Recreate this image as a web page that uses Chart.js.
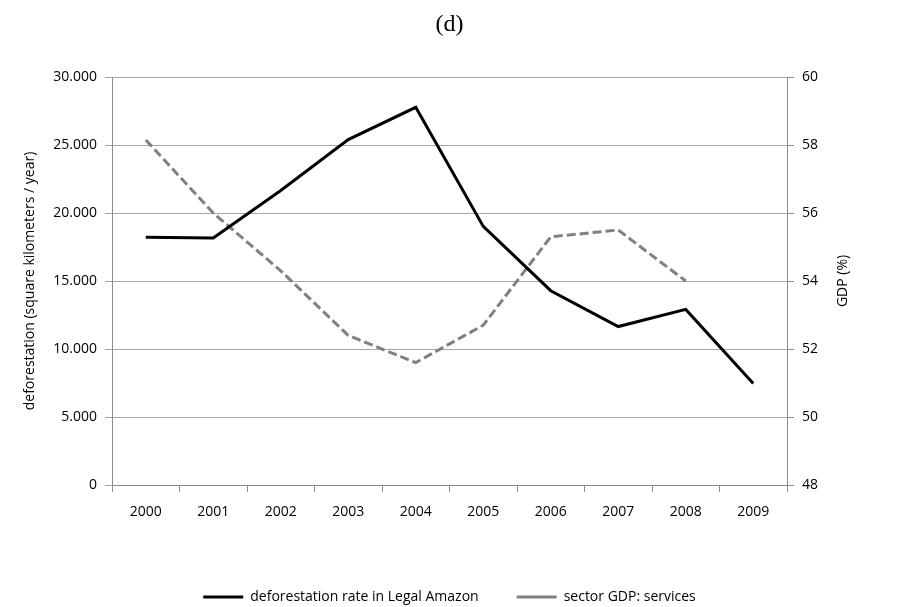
<!DOCTYPE html>
<html>
<head>
<meta charset="utf-8">
<script src="https://cdn.jsdelivr.net/npm/chart.js@4"></script>
<style>
  body { margin: 0; background: #fff; }
  canvas { display: block; }
</style>
</head>
<body>
<canvas id="chart" width="899" height="607"></canvas>
<script>
// Datos
const years = ['2000', '2001', '2002', '2003', '2004', '2005', '2006', '2007', '2008', '2009'];
const deforestation = [18226, 18165, 21651, 25396, 27772, 19014, 14286, 11651, 12911, 7464];
const gdpServices = [58.15, 56.0, 54.3, 52.4, 51.6, 52.7, 55.3, 55.5, 54.0, null];

const leftTicks = [0, 5000, 10000, 15000, 20000, 25000, 30000];
const rightTicks = [48, 50, 52, 54, 56, 58, 60];

const FONT = "'Open Sans', sans-serif";
const gridColor = '#a6a6a6';
const axisColor = '#8c8c8c';

// separador de miles con punto: 30000 -> 30.000
function fmtThousands(v) {
    return String(v).replace(/\B(?=(\d{3})+(?!\d))/g, '.');
}

// título del eje derecho, girado como en el original (de abajo hacia arriba)
const rightTitle = {
    id: 'rightTitle',
    afterDraw(chart) {
        const { ctx, chartArea } = chart;
        ctx.save();
        ctx.translate(chartArea.right + 56, (chartArea.top + chartArea.bottom) / 2);
        ctx.rotate(-Math.PI / 2);
        ctx.font = "14px " + FONT;
        ctx.fillStyle = '#000';
        ctx.textAlign = 'center';
        ctx.textBaseline = 'middle';
        ctx.fillText('GDP (%)', 0, 0);
        ctx.restore();
    }
};

new Chart(document.getElementById('chart'), {
    type: 'line',
    data: {
        labels: years,
        datasets: [
            {
                label: 'deforestation rate in Legal Amazon',
                data: deforestation,
                yAxisID: 'y',
                borderColor: '#000',
                backgroundColor: '#000',
                borderWidth: 3,
                pointRadius: 0,
                tension: 0,
                fill: false
            },
            {
                label: 'sector GDP: services',
                data: gdpServices,
                yAxisID: 'y1',
                borderColor: '#808080',
                backgroundColor: '#808080',
                borderWidth: 3,
                borderDash: [9, 4],
                pointRadius: 0,
                tension: 0,
                fill: false
            }
        ]
    },
    options: {
        responsive: false,
        animation: false,
        // la leyenda queda muy abajo en el original, de ahí el margen negativo
        layout: { padding: { left: 0, right: 0, top: 0, bottom: -7 } },
        plugins: {
            title: {
                display: true,
                text: '(d)',
                color: '#000',
                font: { family: "'Liberation Serif', serif", size: 24, weight: 'normal' },
                padding: { top: 10.6, bottom: 37.6 }
            },
            legend: {
                display: true,
                position: 'bottom',
                labels: {
                    usePointStyle: true,
                    pointStyle: 'line',
                    pointStyleWidth: 40,
                    padding: 38,
                    color: '#000',
                    font: { family: FONT, size: 14 }
                }
            },
            tooltip: { enabled: false }
        },
        scales: {
            x: {
                type: 'category',
                offset: true,
                grid: {
                    offset: true,
                    drawOnChartArea: false,
                    drawTicks: true,
                    tickLength: 7,
                    color: axisColor
                },
                border: { color: axisColor },
                ticks: {
                    color: '#000',
                    padding: 12,
                    maxRotation: 0,
                    font: { family: FONT, size: 14 }
                },
                afterFit(scale) { scale.height = 67; }
            },
            y: {
                position: 'left',
                min: 0,
                max: 30000,
                afterBuildTicks(scale) { scale.ticks = leftTicks.map(v => ({ value: v })); },
                grid: { color: gridColor, tickLength: 7, lineWidth: 1 },
                border: { color: axisColor },
                ticks: {
                    color: '#000',
                    padding: 8,
                    font: { family: FONT, size: 14 },
                    callback: v => fmtThousands(v)
                },
                title: {
                    display: true,
                    text: 'deforestation (square kilometers / year)',
                    color: '#000',
                    font: { family: FONT, size: 14 },
                    padding: { top: 22, bottom: 0 }
                },
                afterFit(scale) { scale.width = 112; }
            },
            y1: {
                position: 'right',
                min: 48,
                max: 60,
                afterBuildTicks(scale) { scale.ticks = rightTicks.map(v => ({ value: v })); },
                grid: { drawOnChartArea: false, color: axisColor, tickLength: 7 },
                border: { color: axisColor },
                ticks: {
                    color: '#000',
                    padding: 8,
                    font: { family: FONT, size: 14 }
                },
                afterFit(scale) { scale.width = 112; }
            }
        }
    },
    plugins: [rightTitle]
});
</script>
</body>
</html>
